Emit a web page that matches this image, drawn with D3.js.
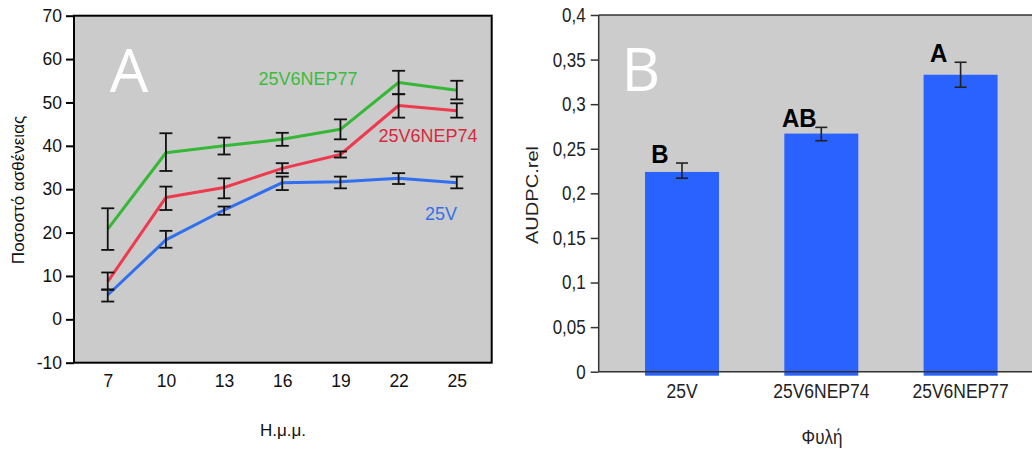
<!DOCTYPE html>
<html>
<head>
<meta charset="utf-8">
<script src="https://cdn.jsdelivr.net/npm/d3@7"></script>
<style>
  html, body { margin: 0; padding: 0; background: #fff; }
  svg { display: block; }
  text { font-family: "Liberation Sans", Arial, sans-serif; }
</style>
</head>
<body>
<svg id="chart" width="1032" height="452"></svg>
<script>
// ---------- Panel A data ----------
const daysA = [7, 10, 13, 16, 19, 22, 25];
const yTicksA = [-10, 0, 10, 20, 30, 40, 50, 60, 70];
const seriesNames = ["25V6NEP77", "25V6NEP74", "25V"];
const mean77 = [20.8, 38.4, 40.0, 41.5, 43.8, 54.6, 52.8];
const low77  = [16.0, 34.2, 38.0, 40.0, 41.5, 51.9, 50.7];
const high77 = [25.6, 42.9, 41.9, 43.0, 46.1, 57.3, 55.0];
const mean74 = [8.7, 28.1, 30.4, 34.8, 38.0, 49.3, 48.1];
const low74  = [6.9, 25.2, 27.9, 33.7, 37.3, 46.5, 46.5];
const high74 = [10.8, 30.6, 32.5, 36.0, 38.7, 51.9, 49.8];
const mean25 = [5.6, 18.3, 25.2, 31.5, 31.7, 32.5, 31.5];
const low25  = [4.1, 16.5, 24.1, 29.8, 30.2, 31.2, 30.2];
const high25 = [6.8, 20.4, 26.0, 32.9, 32.9, 33.7, 32.9];

// ---------- Panel B data ----------
const linesB = ["25V", "25V6NEP74", "25V6NEP77"];
const audpc = [0.224, 0.267, 0.333];
const audpcLow = [0.217, 0.259, 0.319];
const audpcHigh = [0.234, 0.274, 0.347];
const groupLetters = ["B", "AB", "A"];
const yTicksB = [0, 0.05, 0.1, 0.15, 0.2, 0.25, 0.3, 0.35, 0.4];
const yTickLabelsB = ["0", "0,05", "0,1", "0,15", "0,2", "0,25", "0,3", "0,35", "0,4"];

const svg = d3.select("#chart");

// ================= PANEL A =================
const A = { left: 74, right: 491.7, top: 15.7, bottom: 362.7 };
const xA = d3.scaleLinear().domain([5.26, 26.8]).range([A.left, A.right]);
const yA = d3.scaleLinear().domain([-10, 70]).range([A.bottom, A.top]);

svg.append("rect")
  .attr("x", A.left).attr("y", A.top)
  .attr("width", A.right - A.left).attr("height", A.bottom - A.top)
  .attr("fill", "#cbcbcb");

// big letter A
svg.append("text")
  .attr("x", 129).attr("y", 92)
  .attr("text-anchor", "middle")
  .attr("fill", "#fff")
  .style("font-family", "'Open Sans', sans-serif")
  .style("font-size", "61px")
  .text("A");

const seriesA = [
  { name: "25V6NEP77", mean: mean77, low: low77, high: high77, color: "#36b836" },
  { name: "25V6NEP74", mean: mean74, low: low74, high: high74, color: "#ee3a4e" },
  { name: "25V", mean: mean25, low: low25, high: high25, color: "#3070f0" }
];

const lineGen = d3.line().x(d => xA(d.x)).y(d => yA(d.y));
seriesA.slice().reverse().forEach(s => {
  const pts = daysA.map((d, i) => ({ x: d, y: s.mean[i] }));
  svg.append("path")
    .datum(pts)
    .attr("d", lineGen)
    .attr("fill", "none")
    .attr("stroke", s.color)
    .attr("stroke-width", 3)
    .attr("stroke-linejoin", "round");
});
seriesA.forEach(s => {
  const g = svg.append("g").attr("stroke", "#111").attr("stroke-width", 1.8);
  daysA.forEach((d, i) => {
    const cx = xA(d);
    g.append("line").attr("x1", cx).attr("x2", cx).attr("y1", yA(s.low[i])).attr("y2", yA(s.high[i]));
    g.append("line").attr("x1", cx - 6.5).attr("x2", cx + 6.5).attr("y1", yA(s.low[i])).attr("y2", yA(s.low[i]));
    g.append("line").attr("x1", cx - 6.5).attr("x2", cx + 6.5).attr("y1", yA(s.high[i])).attr("y2", yA(s.high[i]));
  });
});

const labelPosA = [
  { x: 308, y: 85, color: "#3cbc3c" },
  { x: 428, y: 142, color: "#d8283d" },
  { x: 441, y: 220, color: "#3470ea" }
];
seriesNames.forEach((n, i) => {
  svg.append("text")
    .attr("x", labelPosA[i].x).attr("y", labelPosA[i].y)
    .attr("text-anchor", "middle")
    .attr("fill", labelPosA[i].color)
    .style("font-size", "18px")
    .text(n);
});

const axisLeftA = svg.append("g")
  .attr("transform", `translate(${A.left},0)`)
  .call(d3.axisLeft(yA).tickValues(yTicksA).tickFormat(d => String(d)).tickSize(8).tickPadding(4).tickSizeOuter(0));
axisLeftA.select(".domain").remove();
axisLeftA.selectAll(".tick line").attr("stroke", "#000").attr("stroke-width", 2);
axisLeftA.selectAll(".tick text").style("font-size", "17.5px").attr("fill", "#111")
  .style("font-family", "'Liberation Sans', Arial, sans-serif");

const axisBottomA = svg.append("g")
  .attr("transform", `translate(0,${A.bottom})`)
  .call(d3.axisBottom(xA).tickValues(daysA).tickFormat(d => String(d)).tickSize(0).tickPadding(12));
axisBottomA.select(".domain").remove();
axisBottomA.selectAll(".tick text").style("font-size", "17.5px").attr("fill", "#111")
  .style("font-family", "'Liberation Sans', Arial, sans-serif");

svg.append("rect")
  .attr("x", A.left).attr("y", A.top)
  .attr("width", A.right - A.left).attr("height", A.bottom - A.top)
  .attr("fill", "none").attr("stroke", "#000").attr("stroke-width", 2);

svg.append("text")
  .attr("transform", "translate(24,190) rotate(-90)")
  .attr("text-anchor", "middle")
  .attr("fill", "#111")
  .style("font-size", "17px")
  .text("Ποσοστό ασθένειας");
svg.append("text")
  .attr("x", 283).attr("y", 436)
  .attr("text-anchor", "middle")
  .attr("fill", "#111")
  .style("font-size", "17px")
  .text("Η.μ.μ.");

// ================= PANEL B =================
const B = { left: 598.7, right: 1040, top: 15, bottom: 371.7 };
const sy = 1.18;
const xB = d3.scaleBand().domain(linesB).range([598.7, 1043.9]).paddingInner(0.469).paddingOuter(0.3325);
const yB = d3.scaleLinear().domain([0, 0.4]).range([B.bottom, B.top]);

svg.append("rect")
  .attr("x", B.left).attr("y", B.top)
  .attr("width", B.right - B.left).attr("height", B.bottom - B.top)
  .attr("fill", "#cccccc");

svg.append("text")
  .attr("x", 641).attr("y", 90.7)
  .attr("text-anchor", "middle")
  .attr("fill", "#fff")
  .style("font-family", "'Open Sans', sans-serif")
  .style("font-size", "60px")
  .text("B");

svg.selectAll("rect.bar")
  .data(linesB)
  .join("rect")
  .attr("class", "bar")
  .attr("x", d => xB(d))
  .attr("y", (d, i) => yB(audpc[i]))
  .attr("width", xB.bandwidth())
  .attr("height", (d, i) => yB(0) - yB(audpc[i]) + 4)
  .attr("fill", "#2962ff");

const gErrB = svg.append("g").attr("stroke", "#222").attr("stroke-width", 1.6);
linesB.forEach((d, i) => {
  const cx = xB(d) + xB.bandwidth() / 2;
  gErrB.append("line").attr("x1", cx).attr("x2", cx).attr("y1", yB(audpcLow[i])).attr("y2", yB(audpcHigh[i]));
  gErrB.append("line").attr("x1", cx - 6).attr("x2", cx + 6).attr("y1", yB(audpcLow[i])).attr("y2", yB(audpcLow[i]));
  gErrB.append("line").attr("x1", cx - 6).attr("x2", cx + 6).attr("y1", yB(audpcHigh[i])).attr("y2", yB(audpcHigh[i]));
});

linesB.forEach((d, i) => {
  const cx = xB(d) + xB.bandwidth() / 2 - 22;
  svg.append("g")
    .attr("transform", `translate(${cx},${yB(audpcHigh[i])}) scale(1,1.08)`)
    .append("text")
    .attr("text-anchor", "middle")
    .attr("fill", "#000")
    .style("font-size", "24px")
    .style("font-weight", "bold")
    .text(groupLetters[i]);
});

const axisLeftB = svg.append("g")
  .attr("transform", `translate(${B.left},0)`)
  .call(d3.axisLeft(yB).tickValues(yTicksB).tickFormat((d, i) => yTickLabelsB[i]).tickSize(8).tickPadding(5).tickSizeOuter(0));
axisLeftB.select(".domain").remove();
axisLeftB.selectAll(".tick line").attr("stroke", "#333").attr("stroke-width", 1.5);
axisLeftB.selectAll(".tick text")
  .style("font-size", "17px").attr("fill", "#222")
  .style("font-family", "'Liberation Sans', Arial, sans-serif")
  .attr("transform", `scale(1,${sy})`);

const axisBottomB = svg.append("g")
  .attr("transform", `translate(0,${B.bottom})`)
  .call(d3.axisBottom(xB).tickSize(0).tickPadding(10));
axisBottomB.select(".domain").remove();
axisBottomB.selectAll(".tick text")
  .style("font-size", "17.5px").attr("fill", "#222")
  .style("font-family", "'Liberation Sans', Arial, sans-serif")
  .attr("transform", `scale(1,${sy})`);

const frameB = svg.append("g").attr("stroke", "#333").attr("stroke-width", 1.5);
frameB.append("line").attr("x1", B.left).attr("x2", B.left).attr("y1", B.top).attr("y2", B.bottom);
frameB.append("line").attr("x1", B.left).attr("x2", 1032).attr("y1", B.bottom).attr("y2", B.bottom);
frameB.append("line").attr("x1", B.left).attr("x2", 1032).attr("y1", B.top).attr("y2", B.top);

svg.append("g")
  .attr("transform", `translate(538,195) rotate(-90) scale(${sy},1)`)
  .append("text")
  .attr("text-anchor", "middle")
  .attr("fill", "#222")
  .style("font-size", "17px")
  .text("AUDPC.rel");
svg.append("g")
  .attr("transform", `translate(822,444) scale(1,${sy})`)
  .append("text")
  .attr("text-anchor", "middle")
  .attr("fill", "#222")
  .style("font-size", "17px")
  .text("Φυλή");
</script>
</body>
</html>
